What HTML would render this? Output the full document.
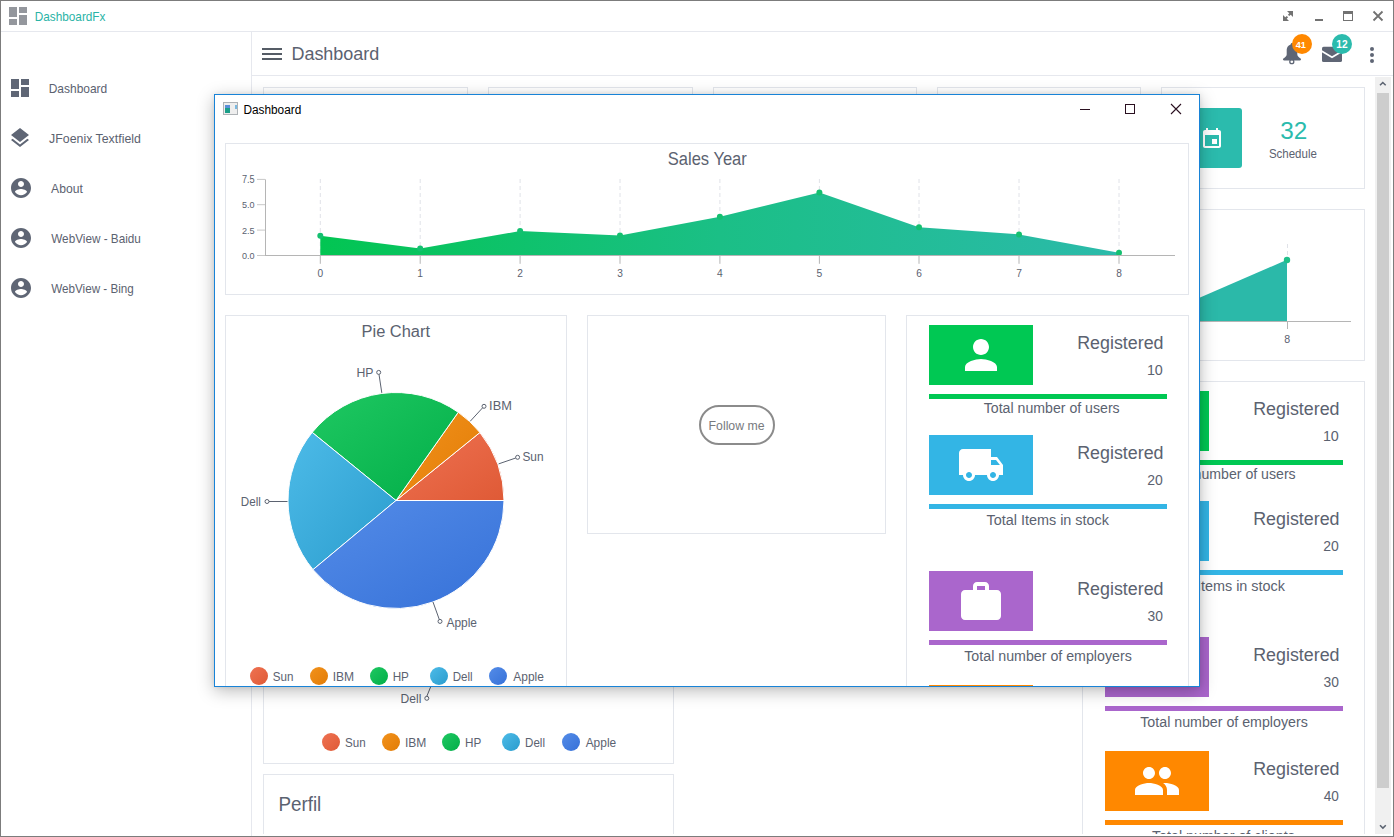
<!DOCTYPE html>
<html><head><meta charset="utf-8"><style>
*{margin:0;padding:0}
html,body{width:1394px;height:837px;overflow:hidden;background:#fff}
body{position:relative;font-family:"Liberation Sans", sans-serif}
.a{position:absolute}
#frame{position:absolute;left:0;top:0;width:1394px;height:837px;box-sizing:border-box;border:1px solid #7c7c7c;pointer-events:none}
#inner{position:absolute;left:214px;top:94px;width:986px;height:593px;box-sizing:border-box;border:1px solid #1883d7;background:#fff;overflow:hidden;box-shadow:0 4px 16px rgba(0,0,0,0.27), 0 0 5px rgba(0,0,0,0.08)}
#innerc{position:absolute;left:-215px;top:-95px;width:1394px;height:837px}
</style></head><body>
<div id="bg" class="a" style="left:0;top:0;width:1394px;height:837px;overflow:hidden"><div class="a" style="left:9px;top:7px;width:8px;height:10px;background:#94979d"></div><div class="a" style="left:19px;top:7px;width:8px;height:6px;background:#94979d"></div><div class="a" style="left:9px;top:19px;width:8px;height:6px;background:#94979d"></div><div class="a" style="left:19px;top:15px;width:8px;height:10px;background:#94979d"></div><svg class="a" style="left:1282px;top:10px;" width="12" height="12" viewBox="0 0 12 12"><g fill="none" stroke="#727272" stroke-width="2"><path d="M8.5 3.5 L6.6 5.4"/><path d="M3.5 8.5 L5.4 6.6"/></g><path d="M5 1 H11 V7 Z" fill="#727272"/><path d="M1 5 V11 H7 Z" fill="#727272"/></svg><div class="a" style="left:1315px;top:19px;width:8px;height:2px;background:#727272"></div><div class="a" style="left:1343px;top:11px;width:10px;height:10px;border:1px solid #727272;border-top-width:3px;box-sizing:border-box"></div><svg class="a" style="left:1372px;top:10px;" width="12" height="12" viewBox="0 0 12 12"><path d="M1.5 1.5 L10.5 10.5 M10.5 1.5 L1.5 10.5" stroke="#727272" stroke-width="1.8" fill="none"/></svg><div class="a" style="left:1px;top:31px;width:1392px;height:1px;background:#e6e8ee"></div><div class="a" style="left:251px;top:32px;width:1px;height:804px;background:#e6e8ee"></div><svg class="a" style="left:8px;top:76px;" width="24" height="24" viewBox="0 0 24 24"><path d="M3 13h8V3H3v10zm0 8h8v-6H3v6zm10 0h8V11h-8v10zm0-18v6h8V3h-8z" fill="#5f6675"/></svg><svg class="a" style="left:7.8px;top:126px;" width="24" height="24" viewBox="0 0 24 24"><path d="M11.99 18.54l-7.37-5.73L3 14.07l9 7 9-7-1.63-1.27-7.38 5.74zM12 16l7.36-5.73L21 9l-9-7-9 7 1.63 1.27L12 16z" fill="#5f6675"/></svg><svg class="a" style="left:9px;top:176px;" width="24" height="24" viewBox="0 0 24 24"><path d="M12 2C6.48 2 2 6.48 2 12s4.48 10 10 10 10-4.48 10-10S17.52 2 12 2zm0 3c1.66 0 3 1.34 3 3s-1.34 3-3 3-3-1.34-3-3 1.34-3 3-3zm0 14.2c-2.5 0-4.71-1.28-6-3.22.03-1.99 4-3.08 6-3.08 1.99 0 5.97 1.09 6 3.08-1.29 1.94-3.5 3.22-6 3.22z" fill="#5f6675"/></svg><svg class="a" style="left:9px;top:226px;" width="24" height="24" viewBox="0 0 24 24"><path d="M12 2C6.48 2 2 6.48 2 12s4.48 10 10 10 10-4.48 10-10S17.52 2 12 2zm0 3c1.66 0 3 1.34 3 3s-1.34 3-3 3-3-1.34-3-3 1.34-3 3-3zm0 14.2c-2.5 0-4.71-1.28-6-3.22.03-1.99 4-3.08 6-3.08 1.99 0 5.97 1.09 6 3.08-1.29 1.94-3.5 3.22-6 3.22z" fill="#5f6675"/></svg><svg class="a" style="left:9px;top:276px;" width="24" height="24" viewBox="0 0 24 24"><path d="M12 2C6.48 2 2 6.48 2 12s4.48 10 10 10 10-4.48 10-10S17.52 2 12 2zm0 3c1.66 0 3 1.34 3 3s-1.34 3-3 3-3-1.34-3-3 1.34-3 3-3zm0 14.2c-2.5 0-4.71-1.28-6-3.22.03-1.99 4-3.08 6-3.08 1.99 0 5.97 1.09 6 3.08-1.29 1.94-3.5 3.22-6 3.22z" fill="#5f6675"/></svg><div class="a" style="left:262px;top:48px;width:20px;height:2px;background:#555c66"></div><div class="a" style="left:262px;top:53px;width:20px;height:2px;background:#555c66"></div><div class="a" style="left:262px;top:58px;width:20px;height:2px;background:#555c66"></div><div class="a" style="left:252px;top:75px;width:1141px;height:1px;background:#e6e8ee"></div><svg class="a" style="left:1280px;top:42px;" width="24" height="24" viewBox="0 0 24 24"><path d="M12 2.6 C8.6 2.6 6.7 5.2 6.7 8.6 L6.7 12.6 C6.7 14.4 4.8 15.7 3.4 16.6 C2.6 17.1 2.9 18.4 3.9 18.4 L20.1 18.4 C21.1 18.4 21.4 17.1 20.6 16.6 C19.2 15.7 17.3 14.4 17.3 12.6 L17.3 8.6 C17.3 5.2 15.4 2.6 12 2.6 Z" fill="#5f6675"/><circle cx="12" cy="2.4" r="1.3" fill="#5f6675"/><circle cx="11.8" cy="19.7" r="2" fill="none" stroke="#5f6675" stroke-width="1.3"/></svg><svg class="a" style="left:1320px;top:43px;" width="24" height="24" viewBox="0 0 24 24"><rect x="2" y="3.8" width="20" height="15.3" rx="1.6" fill="#5f6675"/><path d="M1.5 7.9 L12 14.3 L22.5 7.9" fill="none" stroke="#fff" stroke-width="1.7" stroke-linejoin="round"/></svg><div class="a" style="left:1292px;top:34px;width:20px;height:20px;border-radius:50%;background:#ff8800"></div><div class="a" style="left:1332px;top:34px;width:20px;height:20px;border-radius:50%;background:#2bbbad"></div><div class="a" style="left:1370px;top:47px;width:4px;height:4px;border-radius:50%;background:#5f6675"></div><div class="a" style="left:1370px;top:53px;width:4px;height:4px;border-radius:50%;background:#5f6675"></div><div class="a" style="left:1370px;top:59px;width:4px;height:4px;border-radius:50%;background:#5f6675"></div><div class="a" style="left:1375px;top:77px;width:16px;height:757px;background:#f0f0f0"></div><div class="a" style="left:1377px;top:93px;width:12px;height:695px;background:#cdcdcd"></div><svg class="a" style="left:1378px;top:80px;" width="10" height="8" viewBox="0 0 10 8"><path d="M2 5.3 L4.8 2.5 L7.7 5.3" stroke="#5a6270" stroke-width="1.5" fill="none"/></svg><svg class="a" style="left:1378px;top:823px;" width="10" height="8" viewBox="0 0 10 8"><path d="M2 2.2 L4.9 5.1 L7.8 2.2" stroke="#5a6270" stroke-width="1.5" fill="none"/></svg><div class="a" style="left:263px;top:87px;width:205px;height:102px;border:1px solid #e3e6ec;background:#fff;box-sizing:border-box"></div><div class="a" style="left:488px;top:87px;width:205px;height:102px;border:1px solid #e3e6ec;background:#fff;box-sizing:border-box"></div><div class="a" style="left:713px;top:87px;width:204px;height:102px;border:1px solid #e3e6ec;background:#fff;box-sizing:border-box"></div><div class="a" style="left:937px;top:87px;width:204px;height:102px;border:1px solid #e3e6ec;background:#fff;box-sizing:border-box"></div><div class="a" style="left:1161px;top:87px;width:204px;height:102px;border:1px solid #e3e6ec;background:#fff;box-sizing:border-box"></div><div class="a" style="left:1181px;top:108px;width:61px;height:60px;background:#2bbbad;border-radius:3px"></div><svg class="a" style="left:1200px;top:127px;" width="24" height="24" viewBox="0 0 24 24"><path d="M17 12h-5v5h5v-5zM16 1v2H8V1H6v2H5c-1.11 0-1.99.9-1.99 2L3 19c0 1.1.89 2 2 2h14c1.1 0 2-.9 2-2V5c0-1.1-.9-2-2-2h-1V1h-2zm3 18H5V8h14v11z" fill="#fff"/></svg><div class="a" style="left:263px;top:209px;width:1102px;height:152px;border:1px solid #e3e6ec;background:#fff;box-sizing:border-box"></div><svg class="a" style="left:1150px;top:230px" width="214" height="120" viewBox="1150 230 214 120">
<line x1="1287.5" y1="244" x2="1287.5" y2="260" stroke="#e0e2e8" stroke-dasharray="4,3"/>
<path d="M1150 319.2 L1287 259.8 L1287 321 L1150 321 Z" fill="#2bb9a9"/>
<circle cx="1287" cy="260" r="3.2" fill="#1fbf8a"/>
<line x1="1150" y1="321.5" x2="1351" y2="321.5" stroke="#b5b5b5"/>
<line x1="1287.5" y1="321" x2="1287.5" y2="329" stroke="#b5b5b5"/>
</svg><div class="a" style="left:263px;top:381px;width:411px;height:383px;border:1px solid #e3e6ec;background:#fff;box-sizing:border-box"></div><div class="a" style="left:1082px;top:381px;width:283px;height:519px;border:1px solid #e3e6ec;background:#fff;box-sizing:border-box"></div><div class="a" style="left:263px;top:774px;width:411px;height:126px;border:1px solid #e3e6ec;background:#fff;box-sizing:border-box"></div><div class="a" style="left:321.9px;top:733.2px;width:18px;height:18px;border-radius:50%;background:linear-gradient(135deg, #ef7252, #df5a36)"></div><div class="a" style="left:381.8px;top:733.2px;width:18px;height:18px;border-radius:50%;background:linear-gradient(135deg, #f2921c, #e27c06)"></div><div class="a" style="left:441.8px;top:733.2px;width:18px;height:18px;border-radius:50%;background:linear-gradient(135deg, #1fc862, #02ae48)"></div><div class="a" style="left:501.8px;top:733.2px;width:18px;height:18px;border-radius:50%;background:linear-gradient(135deg, #4dbbe8, #2a9ccd)"></div><div class="a" style="left:561.7px;top:733.2px;width:18px;height:18px;border-radius:50%;background:linear-gradient(135deg, #548ce8, #3671d8)"></div><svg class="a" style="left:395px;top:684px;" width="40" height="20" viewBox="0 0 40 20"><path d="M35.6 3 L31.8 12.3" stroke="#5b6270" stroke-width="1" fill="none"/><circle cx="31.8" cy="14.3" r="2" stroke="#5b6270" fill="none"/></svg><div class="a" style="left:1105px;top:391px;width:104px;height:60px;background:#00c853"></div><svg class="a" style="left:1133px;top:397px;" width="48" height="48" viewBox="0 0 24 24"><path d="M12 12c2.21 0 4-1.79 4-4s-1.79-4-4-4-4 1.79-4 4 1.79 4 4 4zm0 2c-2.67 0-8 1.34-8 4v2h16v-2c0-2.66-5.33-4-8-4z" fill="#fff"/></svg><div class="a" style="left:1105px;top:460px;width:238px;height:5px;background:#00c853"></div><div class="a" style="left:1105px;top:501px;width:104px;height:60px;background:#33b5e5"></div><svg class="a" style="left:1133px;top:507px;" width="48" height="48" viewBox="0 0 24 24"><path d="M20 8h-3V4H3c-1.1 0-2 .9-2 2v11h2c0 1.66 1.34 3 3 3s3-1.34 3-3h6c0 1.66 1.34 3 3 3s3-1.34 3-3h2v-5l-3-4zM6 18.5c-.83 0-1.5-.67-1.5-1.5s.67-1.5 1.5-1.5 1.5.67 1.5 1.5-.67 1.5-1.5 1.5zm13.5-9l1.96 2.5H17V9.5h2.5zm-1.5 9c-.83 0-1.5-.67-1.5-1.5s.67-1.5 1.5-1.5 1.5.67 1.5 1.5-.67 1.5-1.5 1.5z" fill="#fff"/></svg><div class="a" style="left:1105px;top:570px;width:238px;height:5px;background:#33b5e5"></div><div class="a" style="left:1105px;top:637px;width:104px;height:60px;background:#aa66cc"></div><svg class="a" style="left:1133px;top:644.4px;" width="48" height="48" viewBox="0 0 24 24"><path d="M20 6h-4V4c0-1.11-.89-2-2-2h-4c-1.11 0-2 .89-2 2v2H4c-1.11 0-1.99.89-1.99 2L2 19c0 1.11.89 2 2 2h16c1.11 0 2-.89 2-2V8c0-1.11-.89-2-2-2zm-6 0h-4V4h4v2z" fill="#fff"/></svg><div class="a" style="left:1105px;top:706px;width:238px;height:5px;background:#aa66cc"></div><div class="a" style="left:1105px;top:751px;width:104px;height:60px;background:#ff8800"></div><svg class="a" style="left:1133px;top:757px;" width="48" height="48" viewBox="0 0 24 24"><path d="M16 11c1.66 0 2.99-1.34 2.99-3S17.66 5 16 5c-1.66 0-3 1.34-3 3s1.34 3 3 3zm-8 0c1.66 0 2.99-1.34 2.99-3S9.66 5 8 5C6.34 5 5 6.34 5 8s1.34 3 3 3zm0 2c-2.33 0-7 1.17-7 3.5V19h14v-2.5c0-2.33-4.67-3.5-7-3.5zm8 0c-.29 0-.62.02-.97.05 1.16.84 1.970 1.97 1.97 3.45V19h6v-2.5c0-2.33-4.67-3.5-7-3.5z" fill="#fff"/></svg><div class="a" style="left:1105px;top:820px;width:238px;height:5px;background:#ff8800"></div><svg class="a" style="left:0;top:0" width="1394" height="837" font-family='"Liberation Sans", sans-serif'><text x="34.73" y="20.90" font-size="12.69" fill="#2ab3a6" textLength="70.73" lengthAdjust="spacingAndGlyphs">DashboardFx</text><text x="48.71" y="93.10" font-size="12.69" fill="#5b6270" textLength="58.56" lengthAdjust="spacingAndGlyphs">Dashboard</text><text x="49.11" y="142.90" font-size="12.41" fill="#5b6270" textLength="91.76" lengthAdjust="spacingAndGlyphs">JFoenix Textfield</text><text x="51.07" y="192.90" font-size="12.41" fill="#5b6270" textLength="31.73" lengthAdjust="spacingAndGlyphs">About</text><text x="51.24" y="242.90" font-size="12.14" fill="#5b6270" textLength="89.59" lengthAdjust="spacingAndGlyphs">WebView - Baidu</text><text x="51.24" y="292.90" font-size="12.41" fill="#5b6270" textLength="82.59" lengthAdjust="spacingAndGlyphs">WebView - Bing</text><text x="291.42" y="59.70" font-size="18.76" fill="#5b6270" textLength="87.95" lengthAdjust="spacingAndGlyphs">Dashboard</text><text x="1295.76" y="48.00" font-size="9.89" fill="#fff" font-weight="bold" textLength="10.21" lengthAdjust="spacingAndGlyphs">41</text><text x="1336.26" y="48.00" font-size="10.04" fill="#fff" font-weight="bold" textLength="11.34" lengthAdjust="spacingAndGlyphs">12</text><text x="1280.29" y="138.80" font-size="24.23" fill="#2bbbad" textLength="27.09" lengthAdjust="spacingAndGlyphs">32</text><text x="1268.88" y="157.80" font-size="12.14" fill="#5b6270" textLength="48.01" lengthAdjust="spacingAndGlyphs">Schedule</text><text x="1284.15" y="343.00" font-size="10.04" fill="#5b6270" textLength="5.92" lengthAdjust="spacingAndGlyphs">8</text><text x="278.45" y="810.80" font-size="19.31" fill="#5b6270" textLength="42.84" lengthAdjust="spacingAndGlyphs">Perfil</text><text x="344.98" y="746.90" font-size="12.50" fill="#5b6270" textLength="20.67" lengthAdjust="spacingAndGlyphs">Sun</text><text x="404.99" y="746.90" font-size="12.50" fill="#5b6270" textLength="21.41" lengthAdjust="spacingAndGlyphs">IBM</text><text x="464.93" y="746.90" font-size="12.50" fill="#5b6270" textLength="16.27" lengthAdjust="spacingAndGlyphs">HP</text><text x="525.05" y="746.90" font-size="12.50" fill="#5b6270" textLength="19.94" lengthAdjust="spacingAndGlyphs">Dell</text><text x="585.67" y="746.90" font-size="12.50" fill="#5b6270" textLength="30.54" lengthAdjust="spacingAndGlyphs">Apple</text><text x="400.50" y="702.70" font-size="12.55" fill="#5b6270" textLength="20.82" lengthAdjust="spacingAndGlyphs">Dell</text><text x="1253.23" y="415.00" font-size="18.76" fill="#5b6270" textLength="86.31" lengthAdjust="spacingAndGlyphs">Registered</text><text x="1322.92" y="441.00" font-size="14.62" fill="#5b6270" textLength="15.95" lengthAdjust="spacingAndGlyphs">10</text><text x="1159.78" y="478.70" font-size="14.84" fill="#5b6270" textLength="135.93" lengthAdjust="spacingAndGlyphs">Total number of users</text><text x="1253.23" y="525.00" font-size="18.76" fill="#5b6270" textLength="86.31" lengthAdjust="spacingAndGlyphs">Registered</text><text x="1323.30" y="551.00" font-size="14.62" fill="#5b6270" textLength="15.56" lengthAdjust="spacingAndGlyphs">20</text><text x="1162.48" y="590.80" font-size="14.84" fill="#5b6270" textLength="122.53" lengthAdjust="spacingAndGlyphs">Total Items in stock</text><text x="1253.23" y="661.00" font-size="18.76" fill="#5b6270" textLength="86.31" lengthAdjust="spacingAndGlyphs">Registered</text><text x="1323.48" y="687.00" font-size="14.62" fill="#5b6270" textLength="15.37" lengthAdjust="spacingAndGlyphs">30</text><text x="1140.28" y="726.50" font-size="14.84" fill="#5b6270" textLength="167.53" lengthAdjust="spacingAndGlyphs">Total number of employers</text><text x="1253.23" y="775.00" font-size="18.76" fill="#5b6270" textLength="86.31" lengthAdjust="spacingAndGlyphs">Registered</text><text x="1323.69" y="801.00" font-size="14.62" fill="#5b6270" textLength="15.15" lengthAdjust="spacingAndGlyphs">40</text><text x="1151.88" y="840.60" font-size="14.84" fill="#5b6270" textLength="142.93" lengthAdjust="spacingAndGlyphs">Total number of clients</text></svg><div class="a" style="left:252px;top:834px;width:1123px;height:2px;background:#fff"></div></div>
<div id="inner"><div id="innerc"><div class="a" style="left:223px;top:102px;width:15px;height:13px;background:#eeeeee;border:1px solid #aeb2b6;box-sizing:border-box"></div><div class="a" style="left:225px;top:105px;width:5px;height:3px;background:#5a90d8"></div><div class="a" style="left:225px;top:108px;width:5px;height:5px;background:#1a9e88"></div><div class="a" style="left:235px;top:105px;width:2px;height:4px;background:#7ab8e0"></div><div class="a" style="left:1080px;top:109px;width:10px;height:1px;background:#2a1020"></div><div class="a" style="left:1125px;top:104px;width:10px;height:10px;border:1px solid #2a1020;box-sizing:border-box"></div><svg class="a" style="left:1170px;top:103px;" width="12" height="12" viewBox="0 0 12 12"><path d="M1 1 L11 11 M11 1 L1 11" stroke="#2a1020" stroke-width="1.1" fill="none"/></svg><div class="a" style="left:225px;top:143px;width:964px;height:152px;border:1px solid #e3e6ec;background:#fff;box-sizing:border-box"></div><svg class="a" style="left:0;top:0" width="1394" height="837"><defs><linearGradient id="ag" x1="320" y1="0" x2="1119" y2="0" gradientUnits="userSpaceOnUse"><stop offset="0" stop-color="#02c552"/><stop offset="0.5" stop-color="#1bbf86"/><stop offset="1" stop-color="#2bbaaa"/></linearGradient></defs><line x1="320.3" y1="179" x2="320.3" y2="255" stroke="#e0e2e8" stroke-dasharray="4,3"/><line x1="420.2" y1="179" x2="420.2" y2="255" stroke="#e0e2e8" stroke-dasharray="4,3"/><line x1="520.1" y1="179" x2="520.1" y2="255" stroke="#e0e2e8" stroke-dasharray="4,3"/><line x1="620" y1="179" x2="620" y2="255" stroke="#e0e2e8" stroke-dasharray="4,3"/><line x1="719.9" y1="179" x2="719.9" y2="255" stroke="#e0e2e8" stroke-dasharray="4,3"/><line x1="819.4" y1="179" x2="819.4" y2="255" stroke="#e0e2e8" stroke-dasharray="4,3"/><line x1="919" y1="179" x2="919" y2="255" stroke="#e0e2e8" stroke-dasharray="4,3"/><line x1="1019" y1="179" x2="1019" y2="255" stroke="#e0e2e8" stroke-dasharray="4,3"/><line x1="1119" y1="179" x2="1119" y2="255" stroke="#e0e2e8" stroke-dasharray="4,3"/><path d="M320.3 255 L320.3 235.7 L420.2 248.4 L520.1 231.1 L620 235.4 L719.9 216.8 L819.4 192.4 L919 227.3 L1019 234.4 L1119 252.7 L1119 255 Z" fill="url(#ag)"/><circle cx="320.3" cy="235.7" r="3" fill="#14c070"/><circle cx="420.2" cy="248.4" r="3" fill="#14c070"/><circle cx="520.1" cy="231.1" r="3" fill="#14c070"/><circle cx="620" cy="235.4" r="3" fill="#14c070"/><circle cx="719.9" cy="216.8" r="3" fill="#14c070"/><circle cx="819.4" cy="192.4" r="3" fill="#14c070"/><circle cx="919" cy="227.3" r="3" fill="#14c070"/><circle cx="1019" cy="234.4" r="3" fill="#14c070"/><circle cx="1119" cy="252.7" r="3" fill="#14c070"/><line x1="265.5" y1="179.4" x2="265.5" y2="255.5" stroke="#b5b5b5"/><line x1="265" y1="255.5" x2="1175" y2="255.5" stroke="#b5b5b5"/><line x1="257" y1="255.5" x2="265" y2="255.5" stroke="#c8c8c8"/><line x1="257" y1="230.1" x2="265" y2="230.1" stroke="#c8c8c8"/><line x1="257" y1="204.7" x2="265" y2="204.7" stroke="#c8c8c8"/><line x1="257" y1="179.4" x2="265" y2="179.4" stroke="#c8c8c8"/><line x1="320.3" y1="255" x2="320.3" y2="263.8" stroke="#b5b5b5"/><line x1="420.2" y1="255" x2="420.2" y2="263.8" stroke="#b5b5b5"/><line x1="520.1" y1="255" x2="520.1" y2="263.8" stroke="#b5b5b5"/><line x1="620" y1="255" x2="620" y2="263.8" stroke="#b5b5b5"/><line x1="719.9" y1="255" x2="719.9" y2="263.8" stroke="#b5b5b5"/><line x1="819.4" y1="255" x2="819.4" y2="263.8" stroke="#b5b5b5"/><line x1="919" y1="255" x2="919" y2="263.8" stroke="#b5b5b5"/><line x1="1019" y1="255" x2="1019" y2="263.8" stroke="#b5b5b5"/><line x1="1119" y1="255" x2="1119" y2="263.8" stroke="#b5b5b5"/></svg><div class="a" style="left:225px;top:315px;width:342px;height:385px;border:1px solid #e3e6ec;background:#fff;box-sizing:border-box"></div><svg class="a" style="left:0;top:0" width="1394" height="837"><defs><linearGradient id="gSun" x1="0" y1="0" x2="1" y2="1"><stop offset="0" stop-color="#ef7252"/><stop offset="1" stop-color="#df5a36"/></linearGradient><linearGradient id="gIBM" x1="0" y1="0" x2="1" y2="1"><stop offset="0" stop-color="#f2921c"/><stop offset="1" stop-color="#e27c06"/></linearGradient><linearGradient id="gHP" x1="0" y1="0" x2="1" y2="1"><stop offset="0" stop-color="#1fc862"/><stop offset="1" stop-color="#02ae48"/></linearGradient><linearGradient id="gDell" x1="0" y1="0" x2="1" y2="1"><stop offset="0" stop-color="#4dbbe8"/><stop offset="1" stop-color="#2a9ccd"/></linearGradient><linearGradient id="gApple" x1="0" y1="0" x2="1" y2="1"><stop offset="0" stop-color="#548ce8"/><stop offset="1" stop-color="#3671d8"/></linearGradient></defs><path d="M396 500.5 L504.00 500.50 A108 108 0 0 0 479.93 432.53 Z" fill="url(#gSun)" stroke="#fff" stroke-width="1" stroke-linejoin="round"/><path d="M396 500.5 L479.93 432.53 A108 108 0 0 0 458.25 412.25 Z" fill="url(#gIBM)" stroke="#fff" stroke-width="1" stroke-linejoin="round"/><path d="M396 500.5 L458.25 412.25 A108 108 0 0 0 312.19 432.39 Z" fill="url(#gHP)" stroke="#fff" stroke-width="1" stroke-linejoin="round"/><path d="M396 500.5 L312.19 432.39 A108 108 0 0 0 313.03 569.63 Z" fill="url(#gDell)" stroke="#fff" stroke-width="1" stroke-linejoin="round"/><path d="M396 500.5 L313.03 569.63 A108 108 0 0 0 504.00 500.50 Z" fill="url(#gApple)" stroke="#fff" stroke-width="1" stroke-linejoin="round"/><line x1="381.8" y1="392.9" x2="379.0" y2="374.4" stroke="#5b6270" stroke-width="1"/><circle cx="378.7" cy="372.4" r="2" stroke="#5b6270" stroke-width="1" fill="none"/><line x1="470.2" y1="421.3" x2="482.6" y2="407.8" stroke="#5b6270" stroke-width="1"/><circle cx="484" cy="406.3" r="2" stroke="#5b6270" stroke-width="1" fill="none"/><line x1="498.6" y1="463.9" x2="515.7" y2="458.0" stroke="#5b6270" stroke-width="1"/><circle cx="517.6" cy="457.3" r="2" stroke="#5b6270" stroke-width="1" fill="none"/><line x1="287.5" y1="501.5" x2="269.0" y2="501.5" stroke="#5b6270" stroke-width="1"/><circle cx="267" cy="501.5" r="2" stroke="#5b6270" stroke-width="1" fill="none"/><line x1="433" y1="602" x2="439.3" y2="619.5" stroke="#5b6270" stroke-width="1"/><circle cx="440" cy="621.4" r="2" stroke="#5b6270" stroke-width="1" fill="none"/></svg><div class="a" style="left:249.6px;top:667.0px;width:18px;height:18px;border-radius:50%;background:linear-gradient(135deg, #ef7252, #df5a36)"></div><div class="a" style="left:309.5px;top:667.0px;width:18px;height:18px;border-radius:50%;background:linear-gradient(135deg, #f2921c, #e27c06)"></div><div class="a" style="left:369.5px;top:667.0px;width:18px;height:18px;border-radius:50%;background:linear-gradient(135deg, #1fc862, #02ae48)"></div><div class="a" style="left:429.5px;top:667.0px;width:18px;height:18px;border-radius:50%;background:linear-gradient(135deg, #4dbbe8, #2a9ccd)"></div><div class="a" style="left:489.4px;top:667.0px;width:18px;height:18px;border-radius:50%;background:linear-gradient(135deg, #548ce8, #3671d8)"></div><div class="a" style="left:587px;top:315px;width:299px;height:219px;border:1px solid #e3e6ec;background:#fff;box-sizing:border-box"></div><div class="a" style="left:699px;top:405px;width:76px;height:40px;border:2px solid #8b8b8b;border-radius:20px;box-sizing:border-box"></div><div class="a" style="left:906px;top:315px;width:283px;height:485px;border:1px solid #e3e6ec;background:#fff;box-sizing:border-box"></div><div class="a" style="left:929px;top:325px;width:104px;height:60px;background:#00c853"></div><svg class="a" style="left:957px;top:331px;" width="48" height="48" viewBox="0 0 24 24"><path d="M12 12c2.21 0 4-1.79 4-4s-1.79-4-4-4-4 1.79-4 4 1.79 4 4 4zm0 2c-2.67 0-8 1.34-8 4v2h16v-2c0-2.66-5.33-4-8-4z" fill="#fff"/></svg><div class="a" style="left:929px;top:394px;width:238px;height:5px;background:#00c853"></div><div class="a" style="left:929px;top:435px;width:104px;height:60px;background:#33b5e5"></div><svg class="a" style="left:957px;top:441px;" width="48" height="48" viewBox="0 0 24 24"><path d="M20 8h-3V4H3c-1.1 0-2 .9-2 2v11h2c0 1.66 1.34 3 3 3s3-1.34 3-3h6c0 1.66 1.34 3 3 3s3-1.34 3-3h2v-5l-3-4zM6 18.5c-.83 0-1.5-.67-1.5-1.5s.67-1.5 1.5-1.5 1.5.67 1.5 1.5-.67 1.5-1.5 1.5zm13.5-9l1.96 2.5H17V9.5h2.5zm-1.5 9c-.83 0-1.5-.67-1.5-1.5s.67-1.5 1.5-1.5 1.5.67 1.5 1.5-.67 1.5-1.5 1.5z" fill="#fff"/></svg><div class="a" style="left:929px;top:504px;width:238px;height:5px;background:#33b5e5"></div><div class="a" style="left:929px;top:571px;width:104px;height:60px;background:#aa66cc"></div><svg class="a" style="left:957px;top:578.4px;" width="48" height="48" viewBox="0 0 24 24"><path d="M20 6h-4V4c0-1.11-.89-2-2-2h-4c-1.11 0-2 .89-2 2v2H4c-1.11 0-1.99.89-1.99 2L2 19c0 1.11.89 2 2 2h16c1.11 0 2-.89 2-2V8c0-1.11-.89-2-2-2zm-6 0h-4V4h4v2z" fill="#fff"/></svg><div class="a" style="left:929px;top:640px;width:238px;height:5px;background:#aa66cc"></div><div class="a" style="left:929px;top:685px;width:104px;height:60px;background:#ff8800"></div><svg class="a" style="left:957px;top:691px;" width="48" height="48" viewBox="0 0 24 24"><path d="M16 11c1.66 0 2.99-1.34 2.99-3S17.66 5 16 5c-1.66 0-3 1.34-3 3s1.34 3 3 3zm-8 0c1.66 0 2.99-1.34 2.99-3S9.66 5 8 5C6.34 5 5 6.34 5 8s1.34 3 3 3zm0 2c-2.33 0-7 1.17-7 3.5V19h14v-2.5c0-2.33-4.67-3.5-7-3.5zm8 0c-.29 0-.62.02-.97.05 1.16.84 1.970 1.97 1.97 3.45V19h6v-2.5c0-2.33-4.67-3.5-7-3.5z" fill="#fff"/></svg><div class="a" style="left:929px;top:754px;width:238px;height:5px;background:#ff8800"></div><svg class="a" style="left:0;top:0" width="1394" height="837" font-family='"Liberation Sans", sans-serif'><text x="243.42" y="113.80" font-size="12.41" fill="#000" textLength="57.84" lengthAdjust="spacingAndGlyphs">Dashboard</text><text x="667.76" y="164.90" font-size="17.66" fill="#5b6270" textLength="79.08" lengthAdjust="spacingAndGlyphs">Sales Year</text><text x="242.04" y="258.90" font-size="9.89" fill="#5b6270" textLength="12.60" lengthAdjust="spacingAndGlyphs">0.0</text><text x="241.94" y="233.50" font-size="9.89" fill="#5b6270" textLength="12.73" lengthAdjust="spacingAndGlyphs">2.5</text><text x="242.04" y="208.10" font-size="9.89" fill="#5b6270" textLength="12.60" lengthAdjust="spacingAndGlyphs">5.0</text><text x="241.94" y="182.80" font-size="10.04" fill="#5b6270" textLength="12.73" lengthAdjust="spacingAndGlyphs">7.5</text><text x="317.46" y="277.10" font-size="10.18" fill="#5b6270" textLength="5.66" lengthAdjust="spacingAndGlyphs">0</text><text x="417.19" y="277.10" font-size="10.33" fill="#5b6270" textLength="5.74" lengthAdjust="spacingAndGlyphs">1</text><text x="517.28" y="277.10" font-size="10.18" fill="#5b6270" textLength="5.66" lengthAdjust="spacingAndGlyphs">2</text><text x="617.20" y="277.10" font-size="10.18" fill="#5b6270" textLength="5.66" lengthAdjust="spacingAndGlyphs">3</text><text x="717.06" y="277.10" font-size="10.33" fill="#5b6270" textLength="5.74" lengthAdjust="spacingAndGlyphs">4</text><text x="816.53" y="277.10" font-size="10.33" fill="#5b6270" textLength="5.74" lengthAdjust="spacingAndGlyphs">5</text><text x="916.14" y="277.10" font-size="10.18" fill="#5b6270" textLength="5.66" lengthAdjust="spacingAndGlyphs">6</text><text x="1016.13" y="277.10" font-size="10.33" fill="#5b6270" textLength="5.74" lengthAdjust="spacingAndGlyphs">7</text><text x="1116.18" y="277.10" font-size="10.18" fill="#5b6270" textLength="5.66" lengthAdjust="spacingAndGlyphs">8</text><text x="361.54" y="336.80" font-size="16.41" fill="#5b6270" textLength="68.50" lengthAdjust="spacingAndGlyphs">Pie Chart</text><text x="356.39" y="377.10" font-size="12.65" fill="#5b6270" textLength="17.05" lengthAdjust="spacingAndGlyphs">HP</text><text x="489.12" y="410.00" font-size="13.09" fill="#5b6270" textLength="22.74" lengthAdjust="spacingAndGlyphs">IBM</text><text x="522.47" y="460.70" font-size="12.04" fill="#5b6270" textLength="21.10" lengthAdjust="spacingAndGlyphs">Sun</text><text x="240.84" y="505.90" font-size="12.28" fill="#5b6270" textLength="20.05" lengthAdjust="spacingAndGlyphs">Dell</text><text x="446.47" y="626.50" font-size="13.10" fill="#5b6270" textLength="30.54" lengthAdjust="spacingAndGlyphs">Apple</text><text x="272.68" y="680.70" font-size="12.50" fill="#5b6270" textLength="20.67" lengthAdjust="spacingAndGlyphs">Sun</text><text x="332.69" y="680.70" font-size="12.50" fill="#5b6270" textLength="21.41" lengthAdjust="spacingAndGlyphs">IBM</text><text x="392.63" y="680.70" font-size="12.50" fill="#5b6270" textLength="16.27" lengthAdjust="spacingAndGlyphs">HP</text><text x="452.75" y="680.70" font-size="12.50" fill="#5b6270" textLength="19.94" lengthAdjust="spacingAndGlyphs">Dell</text><text x="513.37" y="680.70" font-size="12.50" fill="#5b6270" textLength="30.54" lengthAdjust="spacingAndGlyphs">Apple</text><text x="708.59" y="430.10" font-size="12.95" fill="#777a7e" textLength="55.96" lengthAdjust="spacingAndGlyphs">Follow me</text><text x="1077.23" y="349.00" font-size="18.76" fill="#5b6270" textLength="86.31" lengthAdjust="spacingAndGlyphs">Registered</text><text x="1146.92" y="375.00" font-size="14.62" fill="#5b6270" textLength="15.95" lengthAdjust="spacingAndGlyphs">10</text><text x="983.78" y="412.70" font-size="14.84" fill="#5b6270" textLength="135.93" lengthAdjust="spacingAndGlyphs">Total number of users</text><text x="1077.23" y="459.00" font-size="18.76" fill="#5b6270" textLength="86.31" lengthAdjust="spacingAndGlyphs">Registered</text><text x="1147.30" y="485.00" font-size="14.62" fill="#5b6270" textLength="15.56" lengthAdjust="spacingAndGlyphs">20</text><text x="986.48" y="524.80" font-size="14.84" fill="#5b6270" textLength="122.53" lengthAdjust="spacingAndGlyphs">Total Items in stock</text><text x="1077.23" y="595.00" font-size="18.76" fill="#5b6270" textLength="86.31" lengthAdjust="spacingAndGlyphs">Registered</text><text x="1147.48" y="621.00" font-size="14.62" fill="#5b6270" textLength="15.37" lengthAdjust="spacingAndGlyphs">30</text><text x="964.28" y="660.50" font-size="14.84" fill="#5b6270" textLength="167.53" lengthAdjust="spacingAndGlyphs">Total number of employers</text><text x="1077.23" y="709.00" font-size="18.76" fill="#5b6270" textLength="86.31" lengthAdjust="spacingAndGlyphs">Registered</text><text x="1147.69" y="735.00" font-size="14.62" fill="#5b6270" textLength="15.15" lengthAdjust="spacingAndGlyphs">40</text><text x="975.88" y="774.60" font-size="14.84" fill="#5b6270" textLength="142.93" lengthAdjust="spacingAndGlyphs">Total number of clients</text></svg></div></div>
<div id="frame"></div>
</body></html>
